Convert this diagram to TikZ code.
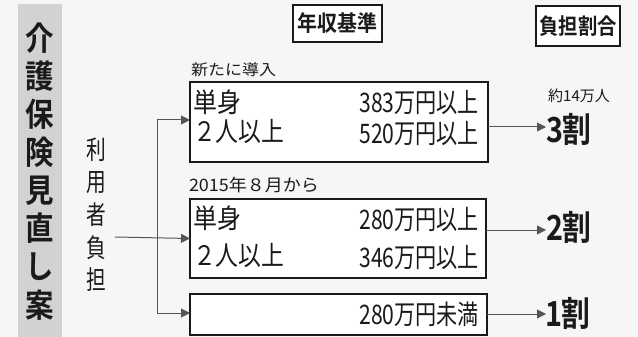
\documentclass[tikz,border=0pt]{standalone}
\usepackage{fontspec}
\setmainfont{Noto Sans CJK JP}[BoldFont={Noto Sans CJK JP Bold}]
\usetikzlibrary{arrows.meta}
\definecolor{ink}{HTML}{1A1A1A}
\definecolor{paper}{HTML}{F6F6F6}
\definecolor{band}{HTML}{D2D2D2}
\definecolor{wire}{HTML}{555555}
\newcommand{\fsz}[1]{\fontsize{#1}{#1}\selectfont}
\begin{document}
\begin{tikzpicture}[x=1pt,y=-1pt,
  every node/.style={inner sep=0pt, outer sep=0pt, text=ink},
  databox/.style={draw=ink, line width=1.8pt, fill=white},
  headbox/.style={draw=ink, line width=1.4pt, fill=white, font=\bfseries\fsz{21}},
  boxtxt/.style={font=\fsz{24}},
  small/.style={font=\fsz{17}},
  big/.style={font=\bfseries\fsz{32}},
  wirearrow/.style={draw=wire, line width=1pt, -{Triangle[length=9pt,width=9pt]}},
  wireline/.style={draw=wire, line width=1pt}]
\fill[paper] (0,0) rectangle (638,337);
\useasboundingbox (0,0) rectangle (638,337);
% left band
\node[fill=band, minimum width=44pt, minimum height=333pt] (band) at (40,170.5) {};
\foreach \c [count=\i] in {介,護,保,険,見,直,し,案}
  \node[font=\bfseries\fsz{30}] (t\i) at (40,{38+38.1*(\i-1)}) {\scalebox{0.95}[1.08]{\c}};
% 利用者負担
\foreach \c [count=\i] in {利,用,者,負,担}
  \node[font=\fsz{24}] (u\i) at (96,{150+32.5*(\i-1)}) {\scalebox{0.82}[1.08]{\c}};
% headers
\node[headbox, minimum width=89pt, minimum height=37pt] (h1) at (337.5,23.5) {\scalebox{0.95}[1.05]{年収基準}};
\node[headbox, minimum width=84pt, minimum height=40pt] (h2) at (578,26) {\scalebox{0.92}[1.05]{負担割合}};
% boxes
\node[databox, minimum width=298pt, minimum height=80pt] (b1) at (339,122) {};
\node[databox, minimum width=296pt, minimum height=79pt] (b2) at (338,238.5) {};
\node[databox, minimum width=297pt, minimum height=41pt] (b3) at (338.5,314.5) {};
% labels above boxes
\node[small, anchor=west] (l1) at (191,70) {\scalebox{1}[0.9]{新たに導入}};
\node[font=\fsz{18}, anchor=west] (l2) at (189,185) {\scalebox{1}[0.95]{2015年８月から}};
% box texts
\node[boxtxt, anchor=west] (a1) at (193,102) {\scalebox{1}[1.12]{単身}};
\node[boxtxt, anchor=west] (a2) at (193,132) {\scalebox{0.95}[1.12]{２人以上}};
\node[boxtxt, anchor=east] (a3) at (479,103) {\scalebox{0.88}[1.12]{383万円以上}};
\node[boxtxt, anchor=east] (a4) at (479,134) {\scalebox{0.88}[1.12]{520万円以上}};
\node[boxtxt, anchor=west] (c1) at (193,218) {\scalebox{1}[1.12]{単身}};
\node[boxtxt, anchor=west] (c2) at (193,256) {\scalebox{0.95}[1.12]{２人以上}};
\node[boxtxt, anchor=east] (c3) at (479,220) {\scalebox{0.88}[1.12]{280万円以上}};
\node[boxtxt, anchor=east] (c4) at (479,258) {\scalebox{0.88}[1.12]{346万円以上}};
\node[boxtxt, anchor=east] (d1) at (479,314) {\scalebox{0.88}[1.12]{280万円未満}};
% results
\node[font=\fsz{15}] (n3) at (579,96) {約14万人};
\node[big, anchor=west] (r3) at (546,129) {\scalebox{0.9}[1.08]{3割}};
\node[big, anchor=west] (r2) at (546,227) {\scalebox{0.9}[1.08]{2割}};
\node[big, anchor=west] (r1) at (546,313) {\scalebox{0.9}[1.08]{\makebox[0.55em]{1}割}};
% connectors
\coordinate (src) at (115,237);
\coordinate (jt) at (157,120);
\coordinate (jb) at (157,313);
\draw[wireline] (jt) -- (jb);
\draw[wirearrow] (src) -- (b2.west);
\draw[wirearrow] (jt) -- (b1.west |- jt);
\draw[wirearrow] (jb) -- (b3.west |- jb);
\draw[wirearrow] (b1.east |- 0,127) -- (r3.west |- 0,127);
\draw[wirearrow] (b2.east |- 0,230) -- (r2.west |- 0,230);
\draw[wirearrow] (b3.east |- 0,314) -- (r1.west |- 0,314);
\end{tikzpicture}
\end{document}
